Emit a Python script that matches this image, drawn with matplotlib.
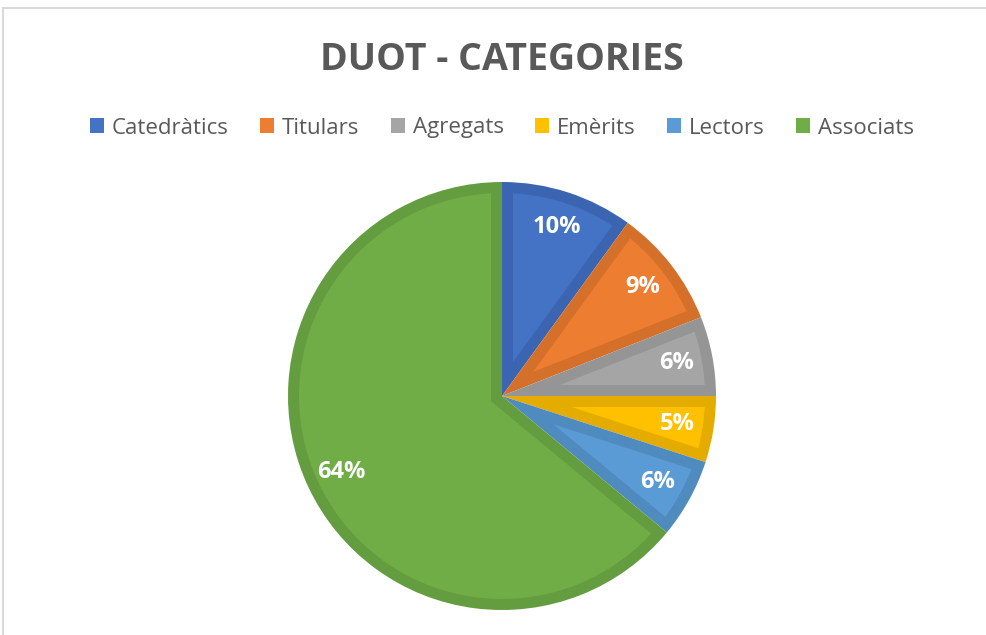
import matplotlib

matplotlib.use("Agg")
import matplotlib.pyplot as plt
import numpy as np
from matplotlib.patches import Rectangle, Patch, Polygon

categories = ["Catedràtics", "Titulars", "Agregats", "Emèrits", "Lectors", "Associats"]
shares = [10, 9, 6, 5, 6, 64]

FILL = ["#4472C4", "#ED7D31", "#A5A5A5", "#FFC000", "#5B9BD5", "#70AD47"]
EDGE = ["#3B65B0", "#D5702B", "#959595", "#E5AC00", "#508BC0", "#649D3F"]
TEXT_GREY = "#595959"

W, H, DPI = 987, 635, 100
BORDER = 11 / 214  # slice border width as a fraction of the radius


def inset(theta1, theta2, R, d, n=80):
    """Inner part of a wedge, shrunk by d from every side (mitred corner)."""
    phi = theta2 - theta1
    mid = np.radians(theta1 + phi / 2)
    v = d / np.sin(np.radians(phi / 2))
    s = np.sqrt((R - d) ** 2 - d ** 2)
    delta = np.degrees(np.arctan2(d, s))
    a = np.radians(np.linspace(theta1 + delta, theta2 - delta, n))
    pts = [(v * np.cos(mid), v * np.sin(mid))]
    pts += list(zip((R - d) * np.cos(a), (R - d) * np.sin(a)))
    return np.array(pts)


fig = plt.figure(figsize=(W / DPI, H / DPI), dpi=DPI)
fig.patch.set_facecolor("white")

# light chart-area frame (top/left visible, right/bottom run off the image)
fig.add_artist(Rectangle((3 / W, -0.05), 1.1, 1.05 - 8 / H, transform=fig.transFigure,
                         facecolor="none", edgecolor="#D9D9D9", linewidth=1.5))

# pie centre (502, 396) px, radius 214 px
cx, cy, r = 502, 396, 214
ax = fig.add_axes([(cx - r) / W, (H - cy - r) / H, 2 * r / W, 2 * r / H])
wedges, _, autotexts = ax.pie(
    shares, colors=EDGE, startangle=90, counterclock=False,
    autopct="%d%%", pctdistance=0.83, radius=1,
    wedgeprops=dict(linewidth=0),
    textprops=dict(color="white", fontsize=17, fontweight="bold", family="Open Sans"),
)
for w, fc in zip(wedges, FILL):
    ax.add_patch(Polygon(inset(w.theta1, w.theta2, w.r, BORDER), closed=True,
                         facecolor=fc, edgecolor="none", zorder=w.get_zorder()))
for t in autotexts:
    t.set_zorder(5)
ax.set_xlim(-1, 1)
ax.set_ylim(-1, 1)
ax.set_aspect("equal")
ax.axis("off")

fig.text(cx / W, 1 - 60 / H, "DUOT - CATEGORIES", ha="center", va="center",
         fontsize=27, fontweight="bold", color=TEXT_GREY, family="Open Sans")

handles = [Patch(facecolor=c, edgecolor="none") for c in FILL]
fig.legend(handles, categories, loc="center", bbox_to_anchor=(cx / W, 1 - 128 / H),
           ncol=6, frameon=False, handlelength=0.65, handleheight=0.65,
           handletextpad=0.35, columnspacing=1.4,
           prop=dict(family="Open Sans", size=16), labelcolor=TEXT_GREY)

fig.savefig("out.png", dpi=DPI)
